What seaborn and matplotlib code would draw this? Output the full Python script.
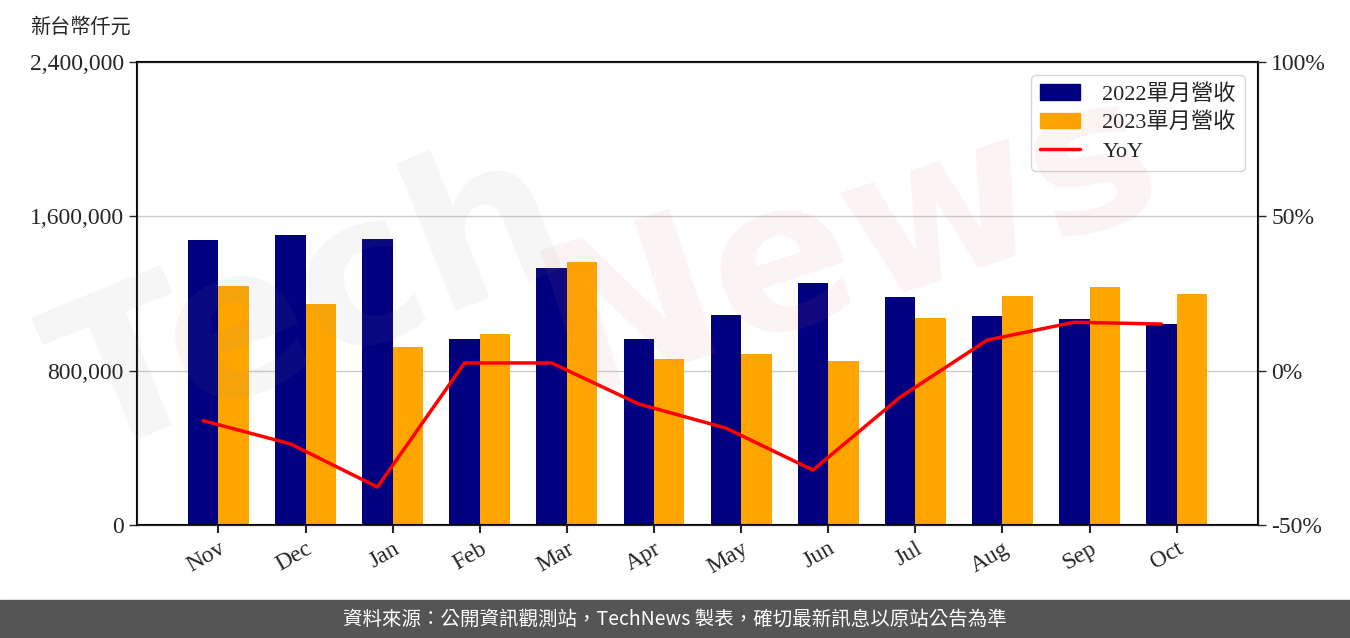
import numpy as np
import pandas as pd
import matplotlib.pyplot as plt
import seaborn as sns
from matplotlib.ticker import FuncFormatter
from matplotlib.patches import Patch
from matplotlib.lines import Line2D

months = ['Nov', 'Dec', 'Jan', 'Feb', 'Mar', 'Apr', 'May', 'Jun', 'Jul', 'Aug', 'Sep', 'Oct']
rev_2022 = [1477000, 1503000, 1483000, 964000, 1332000, 964000,
            1089000, 1254000, 1182000, 1083000, 1068000, 1042000]
rev_2023 = [1239000, 1146000, 923000, 990000, 1363000, 860000,
            886000, 850000, 1073000, 1187000, 1234000, 1197000]
yoy = [-16.2, -23.7, -37.7, 2.5, 2.5, -10.8, -18.6, -32.2, -8.6, 9.9, 15.7, 15.1]
series_names = ['2022單月營收', '2023單月營收']

sns.set_style('white')
plt.rcParams['font.family'] = ['Liberation Serif', 'Noto Sans CJK TC']

df = pd.DataFrame({
    'month': months * 2,
    'rev': rev_2022 + rev_2023,
    'series': [series_names[0]] * 12 + [series_names[1]] * 12,
})

fig = plt.figure(figsize=(13.5, 6.38), dpi=100)
ax = fig.add_axes([0.1015, 0.1771, 0.8304, 0.7257])

# watermark
fig.text(0.23, 0.52, 'Tech', fontsize=150, color='#888888', alpha=0.08, rotation=22,
         ha='center', va='center', fontweight='bold', family='DejaVu Sans', zorder=0)
fig.text(0.63, 0.62, 'News', fontsize=150, color='#e07070', alpha=0.08, rotation=18,
         ha='center', va='center', fontweight='bold', family='DejaVu Sans', zorder=0)

sns.barplot(data=df, x='month', y='rev', hue='series', order=months,
            palette=['#000080', '#FFA500'], width=0.7, saturation=1, ax=ax,
            linewidth=0, legend=False)
ax.set_xlim(-0.935, 11.935)
ax.set_ylim(0, 2400000)
ax.set_yticks([0, 800000, 1600000, 2400000])
ax.yaxis.set_major_formatter(FuncFormatter(lambda v, p: f'{int(v):,}'))
ax.grid(axis='y', color='#cccccc', linewidth=1)
ax.set_axisbelow(True)
ax.set_xlabel('')
ax.set_ylabel('')
ax.tick_params(axis='y', labelsize=17, length=6, width=1, direction='out', left=True)
ax.tick_params(axis='x', labelsize=17, length=6, width=1.5, direction='out', bottom=True)
plt.setp(ax.get_xticklabels(), rotation=30, ha='right', rotation_mode='anchor')
for s in ax.spines.values():
    s.set_color('black')
    s.set_linewidth(1.5)

ax2 = ax.twinx()
x = np.arange(len(months)) - 0.175
ax2.plot(x, yoy, color='red', linewidth=2.5, label='YoY')
ax2.set_ylim(-50, 100)
ax2.set_yticks([-50, 0, 50, 100])
ax2.yaxis.set_major_formatter(FuncFormatter(lambda v, p: f'{int(v)}%'))
ax2.tick_params(axis='y', labelsize=17, length=6, width=1, direction='out', right=True)
ax2.grid(False)

handles = [Patch(color='#000080'), Patch(color='#FFA500'),
           Line2D([0], [0], color='red', linewidth=2.5)]
ax2.legend(handles, series_names + ['YoY'], loc='upper right', fontsize=16,
           frameon=True, fancybox=True, framealpha=0.8, edgecolor='#cccccc',
           handlelength=1.8, handletextpad=1.0, labelspacing=0.35, borderaxespad=0.6)

fig.text(0.022, 0.957, '新台幣仟元', fontsize=14.5, ha='left', va='center')

# footer bar
fig.patches.append(plt.Rectangle((0, 0), 1, 0.0596, transform=fig.transFigure,
                                 color='#555555', zorder=0))
fig.text(0.5, 0.0298, '資料來源：公開資訊觀測站，TechNews 製表，確切最新訊息以原站公告為準',
         fontsize=14, color='white', ha='center', va='center',
         family=['Noto Sans CJK TC', 'DejaVu Sans'])

fig.savefig('out.png', dpi=100)
